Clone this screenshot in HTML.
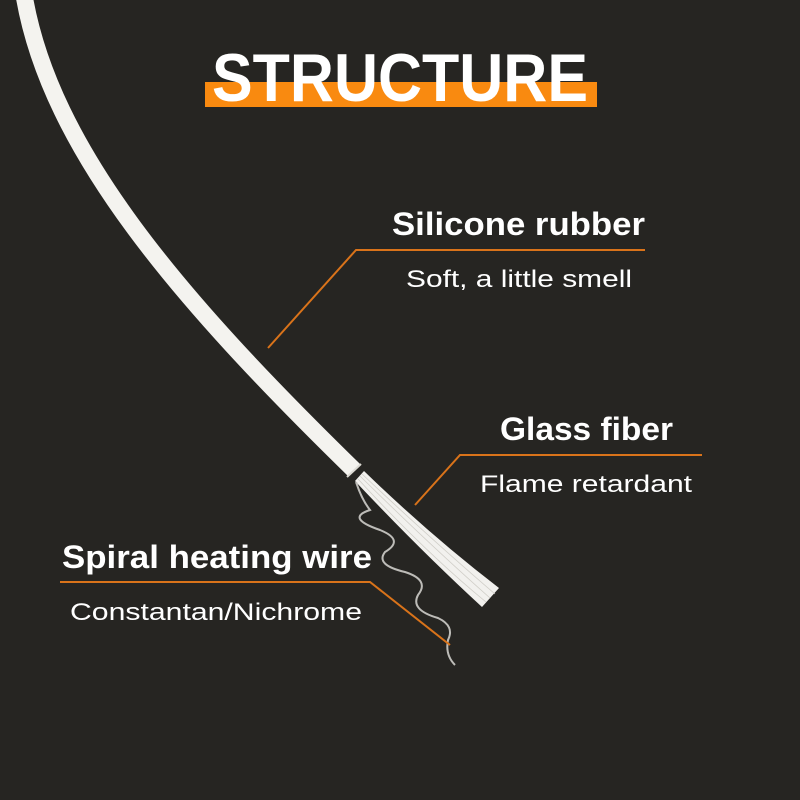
<!DOCTYPE html>
<html><head><meta charset="utf-8"><style>
html,body{margin:0;padding:0;background:#262522;}
svg{display:block}
text{font-family:"Liberation Sans",sans-serif;fill:#fff}
</style></head><body>
<svg width="800" height="800" viewBox="0 0 800 800" xmlns="http://www.w3.org/2000/svg">
<rect width="800" height="800" fill="#262522"/>
<rect x="205" y="82" width="392" height="25" fill="#f98a10"/>
<text x="400" y="101" text-anchor="middle" font-size="68" font-weight="bold" textLength="376" lengthAdjust="spacingAndGlyphs">STRUCTURE</text>
<!-- fiber bundle -->
<path d="M355 481 L364 471 Q430 535 499 588 L482 607 Q420 550 355 481 Z" fill="#f2f1ee"/>
<g stroke="#d0cec8" stroke-width="0.8" fill="none">
<path d="M360 476 Q430 545 490 598"/><path d="M362 474 Q432 540 495 594"/><path d="M358 479 Q425 552 486 602"/>
</g>
<!-- cable -->
<path d="M24 -5 C 50 150, 180 300, 354 470" stroke="#f4f3ef" stroke-width="17" fill="none"/>
<path d="M347 477 L361 464" stroke="#dcdad4" stroke-width="2" fill="none"/>
<!-- spiral wire -->
<path d="M356 482 Q362 500 370 510 Q345 518 380 530 Q405 540 385 552 Q375 565 405 572 Q430 580 418 595 Q410 610 438 618 Q455 626 448 640 Q445 655 455 665" stroke="#bdbcb8" stroke-width="2" fill="none"/>
<!-- leader lines -->
<g stroke="#d9731a" stroke-width="2" fill="none">
<polyline points="268,348 356,250 645,250"/>
<polyline points="415,505 460,455 702,455"/>
<polyline points="60,582 370,582 450,645"/>
</g>
<text x="392" y="235" font-size="32" font-weight="bold" textLength="253" lengthAdjust="spacingAndGlyphs">Silicone rubber</text>
<text x="406" y="287" font-size="24" textLength="226" lengthAdjust="spacingAndGlyphs">Soft, a little smell</text>
<text x="500" y="440" font-size="32" font-weight="bold" textLength="173" lengthAdjust="spacingAndGlyphs">Glass fiber</text>
<text x="480" y="492" font-size="24" textLength="212" lengthAdjust="spacingAndGlyphs">Flame retardant</text>
<text x="62" y="568" font-size="32" font-weight="bold" textLength="310" lengthAdjust="spacingAndGlyphs">Spiral heating wire</text>
<text x="70" y="620" font-size="24" textLength="292" lengthAdjust="spacingAndGlyphs">Constantan/Nichrome</text>
</svg>
</body></html>
